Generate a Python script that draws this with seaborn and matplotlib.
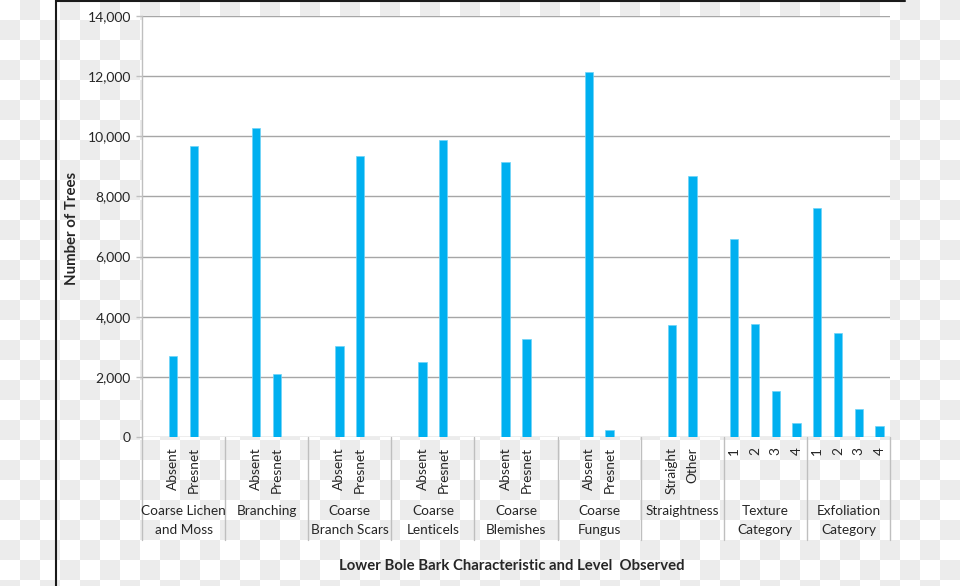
import numpy as np
import pandas as pd
import matplotlib
matplotlib.use("Agg")
import matplotlib.pyplot as plt
import matplotlib.transforms as mtransforms
from matplotlib.lines import Line2D
from matplotlib.colors import ListedColormap
from matplotlib.ticker import FuncFormatter
import seaborn as sns

# ---------------- data ----------------
groups = ["Coarse Lichen\nand Moss", "Branching", "Coarse\nBranch Scars", "Coarse\nLenticels",
          "Coarse\nBlemishes", "Coarse\nFungus", "Straightness", "Texture\nCategory",
          "Exfoliation\nCategory"]
levels = [["Absent", "Presnet"], ["Absent", "Presnet"], ["Absent", "Presnet"],
          ["Absent", "Presnet"], ["Absent", "Presnet"], ["Absent", "Presnet"],
          ["Straight", "Other"], ["1", "2", "3", "4"], ["1", "2", "3", "4"]]
values = [[2700, 9690], [10290, 2090], [3020, 9350], [2500, 9890], [9130, 3250],
          [12150, 220], [3710, 8670], [6600, 3750, 1530, 470], [7610, 3460, 920, 360]]
y_ticks = [0, 2000, 4000, 6000, 8000, 10000, 12000, 14000]
y_label = "Number of Trees"
x_label = "Lower Bole Bark Characteristic and Level  Observed"

SLOTS = 4
order = [f"{g}-{s}" for g in range(len(groups)) for s in range(SLOTS)]
rows = []
for g, (lv, vals) in enumerate(zip(levels, values)):
    off = (SLOTS - len(lv)) // 2
    for i, (l, v) in enumerate(zip(lv, vals)):
        rows.append({"slot": f"{g}-{off + i}", "level": l, "value": v, "group": g})
df = pd.DataFrame(rows)

# ---------------- style ----------------
sns.set_style("white")
plt.rcParams["font.family"] = ["Lato", "DejaVu Sans"]
TXT = "#262626"
W, H = 960, 586

fig = plt.figure(figsize=(9.6, 5.86), dpi=100)
fig.patch.set_facecolor("white")

# checkerboard background (transparent-area pattern)
bg = fig.add_axes([0, 0, 1, 1], zorder=-10)
nr, nc = 30, 48
checker = (np.add.outer(np.arange(nr), np.arange(nc)) % 2)
bg.imshow(checker, cmap=ListedColormap(["white", "#ececec"]), interpolation="nearest",
          extent=[0, nc * 20, nr * 20, 0], aspect="auto")
bg.set_xlim(0, W)
bg.set_ylim(H, 0)
bg.axis("off")

def fx(px):
    return px / W

def fy(py):
    return 1 - py / H

left, right, top, bottom = 142, 890, 16, 437
ax = fig.add_axes([fx(left), fy(bottom), fx(right) - fx(left), fy(top) - fy(bottom)], zorder=1)
ax.set_facecolor("white")

sns.barplot(data=df, x="slot", y="value", order=order, color="#00B0F0", saturation=1,
            width=0.4, errorbar=None, edgecolor="#6fd3f7", linewidth=0.5, ax=ax)

ax.set_xlim(-0.5, len(order) - 0.5)
ax.set_ylim(0, 14000)
ax.set_yticks(y_ticks)
ax.yaxis.set_major_formatter(FuncFormatter(lambda v, p: f"{int(v):,}"))
ax.grid(axis="y", color="#a6a6a6", linewidth=1)
ax.set_axisbelow(True)
for s in ["top", "right", "bottom"]:
    ax.spines[s].set_visible(False)
ax.spines["left"].set_color("#bfbfbf")
ax.spines["left"].set_linewidth(1)
ax.tick_params(axis="y", length=4, width=1, color="#bfbfbf", labelsize=10,
               labelcolor=TXT, pad=4, left=True)
ax.set_xticks([])
ax.set_xlabel("")
ax.set_ylabel("")

# multi-level category axis
trans = mtransforms.blended_transform_factory(ax.transData, fig.transFigure)
for g in range(len(groups) + 1):
    xb = g * SLOTS - 0.5
    fig.add_artist(Line2D([xb, xb], [fy(437), fy(540)], transform=trans,
                          color="#bfbfbf", linewidth=1))
for g, (lv, name) in enumerate(zip(levels, groups)):
    off = (SLOTS - len(lv)) // 2
    for i, l in enumerate(lv):
        fig.text(g * SLOTS + off + i, fy(447), l, transform=trans, rotation=90,
                 ha="center", va="top", fontsize=9.8, color=TXT)
    fig.text(g * SLOTS + (SLOTS - 1) / 2, fy(505), name, transform=trans,
             ha="center", va="top", fontsize=9.8, color=TXT, linespacing=1.65,
             multialignment="center")

fig.text(fx(72), fy(228), y_label, rotation=90, ha="center", va="center",
         fontsize=10.8, fontweight="bold", color=TXT)
fig.text(fx(512), fy(566), x_label, ha="center", va="center",
         fontsize=10.7, fontweight="bold", color=TXT)

# black frame fragment
fig.add_artist(Line2D([fx(55.5), fx(55.5)], [0, 1], transform=fig.transFigure,
                      color="#1a1a1a", linewidth=1.5))
fig.add_artist(Line2D([fx(55.5), fx(905)], [fy(0.8), fy(0.8)], transform=fig.transFigure,
                      color="#1a1a1a", linewidth=1.5))

fig.savefig("out.png", dpi=100)
